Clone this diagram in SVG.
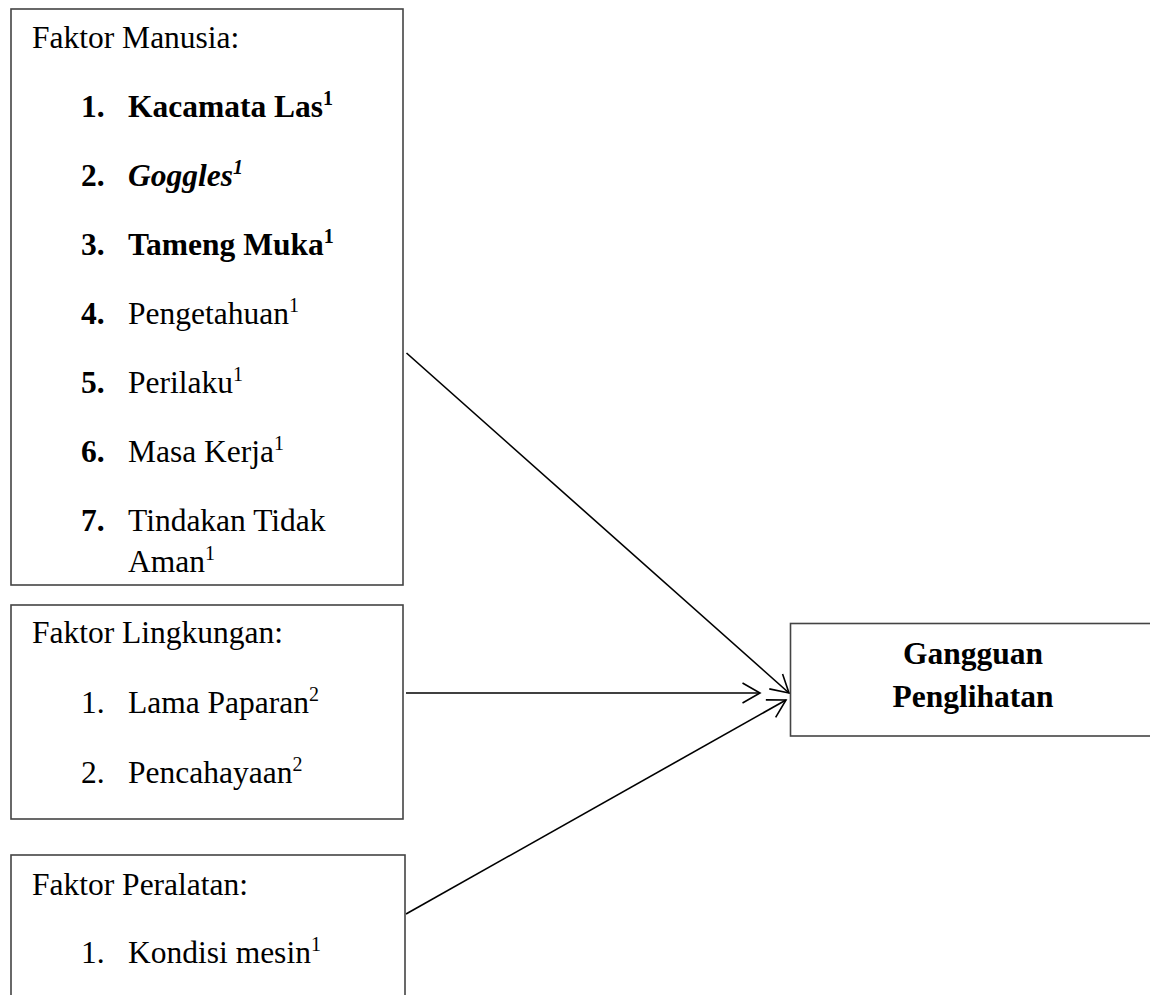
<svg xmlns="http://www.w3.org/2000/svg" width="1150" height="995" viewBox="0 0 1150 995">
<style>
.box{fill:#fff;stroke:#444;stroke-width:1.6}
.t{font-family:"Liberation Serif","Times New Roman",serif;font-size:31.5px;fill:#000}
.b{font-weight:bold}
.i{font-style:italic}
.sup{font-size:20px}
.conn{stroke:#000;stroke-width:1.6;fill:none}
</style>
<defs>
<marker id="arr" markerWidth="22" markerHeight="24" refX="19" refY="12" orient="auto" markerUnits="userSpaceOnUse">
<path d="M1.5,2 L19,12 L1.5,22" fill="none" stroke="#000" stroke-width="1.6"/>
</marker>
</defs>
<rect width="1150" height="995" fill="#fff"/>
<g id="connectors">
<line class="conn" x1="406.5" y1="353" x2="789" y2="693" marker-end="url(#arr)"/>
<line class="conn" x1="406" y1="693" x2="760" y2="693" marker-end="url(#arr)"/>
<line class="conn" x1="406" y1="914" x2="786" y2="700" marker-end="url(#arr)"/>
</g>
<g id="faktor-manusia">
<rect class="box" x="11" y="9" width="392" height="576"/>
<text class="t" x="32" y="48">Faktor Manusia:</text>
<text class="t b" x="81" y="117">1.</text>
<text class="t b" x="128" y="117">Kacamata Las<tspan class="sup" dy="-12">1</tspan></text>
<text class="t b" x="81" y="186">2.</text>
<text class="t b i" x="128" y="186">Goggles<tspan class="sup" dy="-12">1</tspan></text>
<text class="t b" x="81" y="255">3.</text>
<text class="t b" x="128" y="255">Tameng Muka<tspan class="sup" dy="-12">1</tspan></text>
<text class="t b" x="81" y="324">4.</text>
<text class="t" x="128" y="324">Pengetahuan<tspan class="sup" dy="-12">1</tspan></text>
<text class="t b" x="81" y="393">5.</text>
<text class="t" x="128" y="393">Perilaku<tspan class="sup" dy="-12">1</tspan></text>
<text class="t b" x="81" y="462">6.</text>
<text class="t" x="128" y="462">Masa Kerja<tspan class="sup" dy="-12">1</tspan></text>
<text class="t b" x="81" y="531">7.</text>
<text class="t" x="128" y="531">Tindakan Tidak</text>
<text class="t" x="128" y="572">Aman<tspan class="sup" dy="-12">1</tspan></text>
</g>
<g id="faktor-lingkungan">
<rect class="box" x="11" y="605" width="392" height="214"/>
<text class="t" x="32" y="643">Faktor Lingkungan:</text>
<text class="t" x="81" y="713">1.</text>
<text class="t" x="128" y="713">Lama Paparan<tspan class="sup" dy="-12">2</tspan></text>
<text class="t" x="81" y="783">2.</text>
<text class="t" x="128" y="783">Pencahayaan<tspan class="sup" dy="-12">2</tspan></text>
</g>
<g id="faktor-peralatan">
<rect class="box" x="11" y="855" width="394" height="170"/>
<text class="t" x="32" y="895">Faktor Peralatan:</text>
<text class="t" x="81" y="963">1.</text>
<text class="t" x="128" y="963">Kondisi mesin<tspan class="sup" dy="-12">1</tspan></text>
</g>
<g id="gangguan-penglihatan">
<rect class="box" x="790.5" y="623.5" width="400" height="112.5"/>
<text class="t b" x="973" y="664" text-anchor="middle">Gangguan</text>
<text class="t b" x="973" y="707" text-anchor="middle">Penglihatan</text>
</g>
</svg>
